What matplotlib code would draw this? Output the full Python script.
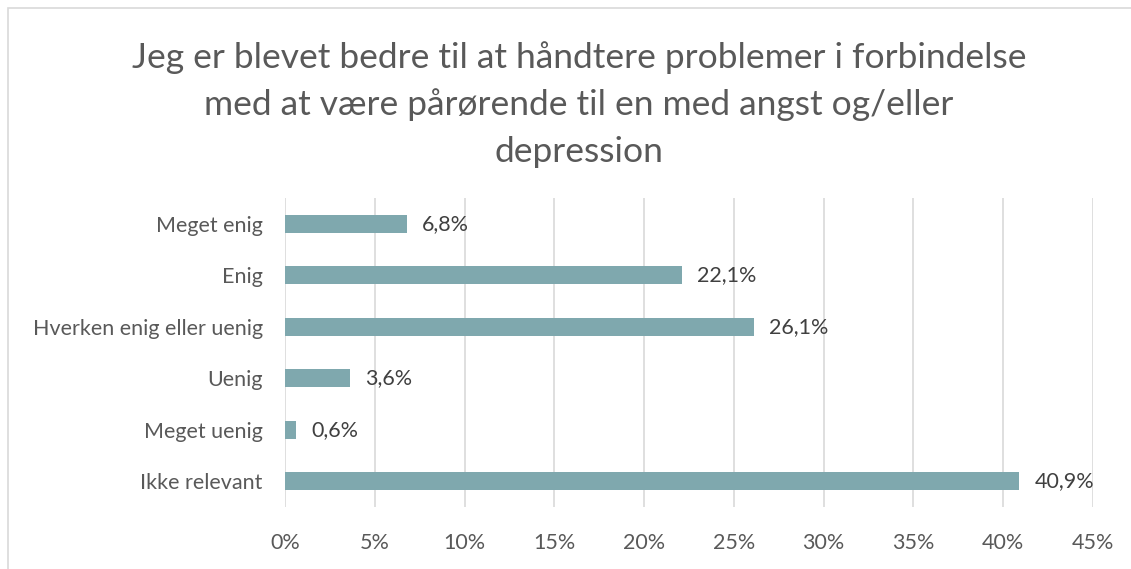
import matplotlib.pyplot as plt
from matplotlib.patches import Rectangle

categories = ['Meget enig', 'Enig', 'Hverken enig eller uenig', 'Uenig', 'Meget uenig', 'Ikke relevant']
values = [6.8, 22.1, 26.1, 3.6, 0.6, 40.9]
value_labels = ['6,8%', '22,1%', '26,1%', '3,6%', '0,6%', '40,9%']
xticks = [0, 5, 10, 15, 20, 25, 30, 35, 40, 45]
title = 'Jeg er blevet bedre til at håndtere problemer i forbindelse\nmed at være pårørende til en med angst og/eller\ndepression'

plt.rcParams['font.family'] = ['Lato', 'DejaVu Sans']
text_color = '#595959'
bar_color = '#7FA8AE'

fig = plt.figure(figsize=(11.31, 5.69), dpi=100)
ax = fig.add_axes([0.252, 0.109, 0.7144, 0.543])

# light border around the chart area
fig.patches.append(Rectangle((8 / 1131, -0.05), 1.1, 1.05 - 8 / 569, transform=fig.transFigure,
                             fill=False, edgecolor='#D9D9D9', linewidth=1.2))

y = list(range(len(categories)))
ax.barh(y, values, height=0.35, color=bar_color, zorder=3)
for yi, v, lab in zip(y, values, value_labels):
    ax.text(v + 0.85, yi, lab, va='center', ha='left', fontsize=15.5, color='#404040')

ax.set_yticks(y)
ax.set_yticklabels(categories, fontsize=15.5, color=text_color)
ax.set_ylim(len(categories) - 0.5, -0.5)
ax.set_xlim(0, 45)
ax.set_xticks(xticks)
ax.set_xticklabels([f'{t}%' for t in xticks], fontsize=15.5, color=text_color)
ax.tick_params(length=0, pad=16, axis='y')
ax.tick_params(length=0, pad=19, axis='x')
ax.grid(axis='x', color='#D9D9D9', linewidth=1.2, zorder=0)
for s in ax.spines.values():
    s.set_visible(False)

fig.text(0.512, 0.928, title, ha='center', va='top', fontsize=25.5, color=text_color,
         linespacing=1.55)

fig.savefig('out.png', dpi=100)
